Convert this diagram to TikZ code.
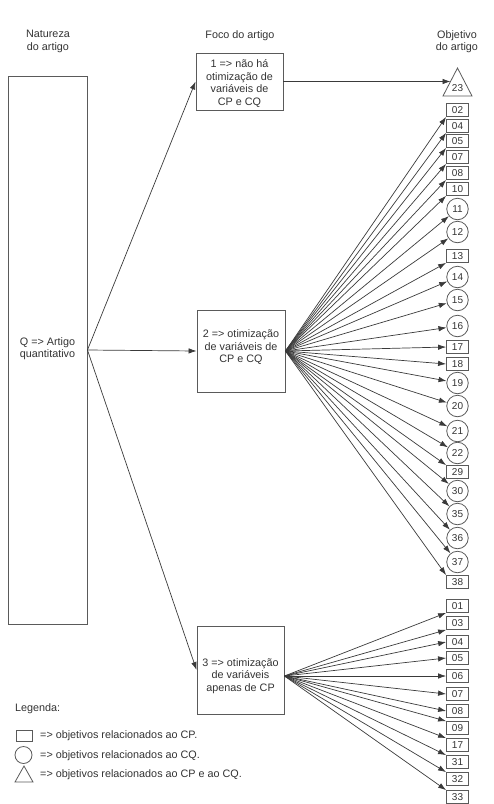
\documentclass[tikz,border=0pt]{standalone}
\usepackage{fontspec}
\setmainfont{Liberation Sans}
\usetikzlibrary{arrows.meta}
\definecolor{ln}{HTML}{3A3A3A}
\definecolor{bd}{HTML}{5A5A5A}
\definecolor{tx}{HTML}{333333}
\tikzset{
 box/.style={draw=bd, line width=0.9pt, inner sep=0pt},
 lbl/.style={align=center, text=tx, font=\fontsize{10.8}{12.5}\selectfont, inner sep=0pt},
 rbox/.style={draw=bd, line width=0.8pt, minimum width=22pt, minimum height=13pt, inner sep=0pt, text=tx, font=\fontsize{10}{10}\selectfont},
 cbox/.style={draw=bd, line width=0.8pt, circle, minimum size=21.5pt, inner sep=0pt, text=tx, font=\fontsize{10}{10}\selectfont},
 arr/.style={draw=ln, line width=0.7pt, -{Latex[length=8pt,width=5.5pt]}},
}
\begin{document}
\begin{tikzpicture}[x=1pt,y=-1pt]
\useasboundingbox (0,0) rectangle (494,804);
% headers
\node[lbl] (h1) at (48,41.5) {Natureza\\do artigo};
\node[lbl] (h2) at (240,36) {Foco do artigo};
\node[lbl] (h3) at (457,41.5) {Objetivo\\do artigo};
% left box
\node[box, minimum width=79pt, minimum height=548pt] (lb) at (47.5,350) {};
\node[lbl] (lbt) at (47.5,348.5) {Q => Artigo\\quantitativo};
% middle boxes
\node[box, minimum width=87pt, minimum height=57pt] (b1) at (239.5,81.5) {};
\node[lbl] (b1t) at (239.5,83.5) {1 => não há\\otimização de\\variáveis de\\CP e CQ};
\node[box, minimum width=88pt, minimum height=82pt] (b2) at (241,351) {};
\node[lbl] (b2t) at (241,347.5) {2 => otimização\\de variáveis de\\CP e CQ};
\node[box, minimum width=87pt, minimum height=88pt] (b3) at (240.5,670) {};
\node[lbl] (b3t) at (240.5,676) {3 => otimização\\de variáveis\\apenas de CP};
% connectors from left box
\draw[arr] (lb.east) -- (b1.west);
\draw[arr] (lb.east) -- (b2.west);
\draw[arr] (lb.east) -- (b3.west);
% triangle 23
\draw[draw=bd, line width=0.8pt] (443,96) -- (472,96) -- (457.5,68) -- cycle;
\node[text=tx, font=\fontsize{10}{10}\selectfont, inner sep=0pt] (t23) at (457.5,88) {23};
\coordinate (t23in) at (450.5,81.5);
\draw[arr] (b1.east) -- (t23in);
% fan from box 2
\foreach \n/\y/\a in {02/110/south west, 04/126/south west, 05/141/south west, 07/157/south west, 08/173/south west, 10/189/south west, 13/256/south west, 17/347/west, 18/364/west, 29/472/north west, 38/582/north west}{
  \node[rbox] (a\n) at (457.5,\y) {\n};
  \draw[arr] (b2.east) -- (a\n.\a);
}
\foreach \n/\y in {11/209, 12/232, 14/277, 15/300, 16/326, 19/383, 20/406, 21/431, 22/453, 30/491, 35/514, 36/538, 37/562}{
  \node[cbox] (a\n) at (457.5,\y) {\n};
  \draw[arr] (b2.east) -- (a\n);
}
% fan from box 3
\coordinate (b3o) at (b3.east |- b3t);
\foreach \n/\y/\a in {01/606/south west, 03/623/south west, 04/642/west, 05/658/west, 06/676/west, 07/694/west, 08/711/west, 09/728/north west, 17/745/north west, 31/762/north west, 32/779/north west, 33/797/north west}{
  \node[rbox] (c\n) at (457.5,\y) {\n};
  \draw[arr] (b3o) -- (c\n.\a);
}
% legend
\node[lbl, anchor=west] (leg) at (15,709) {Legenda:};
\node[draw=bd, line width=0.8pt, minimum width=16pt, minimum height=11pt, inner sep=0pt] (lsq) at (24,735.5) {};
\node[lbl, anchor=west] (lsqt) at (40,736) {=> objetivos relacionados ao CP.};
\node[draw=bd, line width=0.8pt, circle, minimum size=17pt, inner sep=0pt] (lci) at (23.5,755) {};
\node[lbl, anchor=west] (lcit) at (40,756) {=> objetivos relacionados ao CQ.};
\draw[draw=bd, line width=0.8pt] (15,782) -- (33,782) -- (24,766) -- cycle;
\node[lbl, anchor=west] (ltrt) at (40,775) {=> objetivos relacionados ao CP e ao CQ.};
\end{tikzpicture}
\end{document}
